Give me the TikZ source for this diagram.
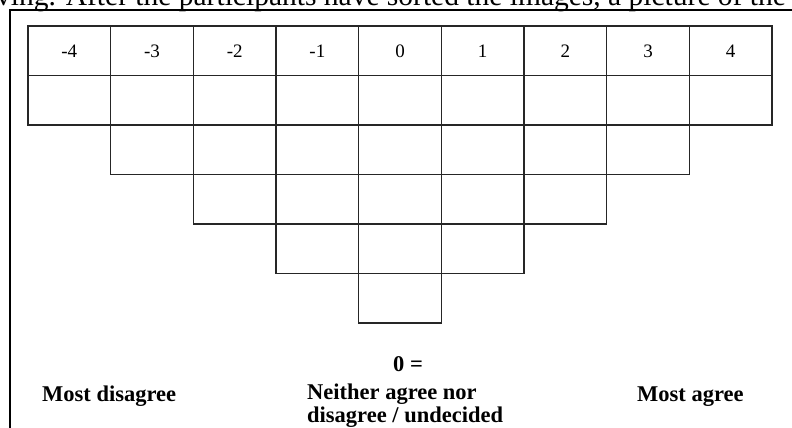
\documentclass[tikz,border=0pt]{standalone}
\usepackage{fontspec}
\setmainfont{Liberation Serif}
\usetikzlibrary{positioning}

\begin{document}
\begin{tikzpicture}[
    x=1pt, y=-1pt,
    cell/.style={
        rectangle,
        draw=black!85,
        line width=1.5pt,
        inner sep=0pt,
        minimum width=82.67pt,
        minimum height=49.5pt
    },
    score/.style={
        font=\fontsize{19}{19}\selectfont,
        text height=12.5pt,
        text depth=0pt
    },
    caption/.style={
        font=\fontsize{22.5}{22.5}\selectfont\bfseries,
        inner sep=0pt
    }
]
\useasboundingbox (0,0) rectangle (792,428);
\clip (0,0) rectangle (792,428);

% running text of the page above the figure
\node[anchor=base west, inner sep=0pt, font=\fontsize{29.5}{29.5}\selectfont] (pagetext) at (-4,6) {ving. After the participants have sorted the images, a picture of the};

% frame
\draw[line width=1.6pt] (10,428) -- (10,10) -- (792,10);

% header row with the scores
\foreach \s [count=\i] in {-4,...,4} {
    \node[cell, score] (h\i) at ({28+(\i-0.5)*82.67}, 50.75) {\s};
}

% card slots, one row less on each side going down
\foreach \r in {2,...,6} {
    \pgfmathtruncatemacro{\first}{\r-1}
    \pgfmathtruncatemacro{\last}{11-\r}
    \foreach \i in {\first,...,\last} {
        \node[cell] (c\r-\i) at ({28+(\i-0.5)*82.67}, {26+(\r-0.5)*49.5}) {};
    }
}

% captions under the grid
\node[caption, anchor=base west] (disagree) at (42,401) {Most disagree};
\node[caption, anchor=base] (zero) at (408,371) {0 =};
\node[caption, anchor=base west, align=left] (neutral) at (307,422) {Neither agree nor\\disagree / undecided};
\node[caption, anchor=base west] (agree) at (637,401) {Most agree};

\end{tikzpicture}
\end{document}
